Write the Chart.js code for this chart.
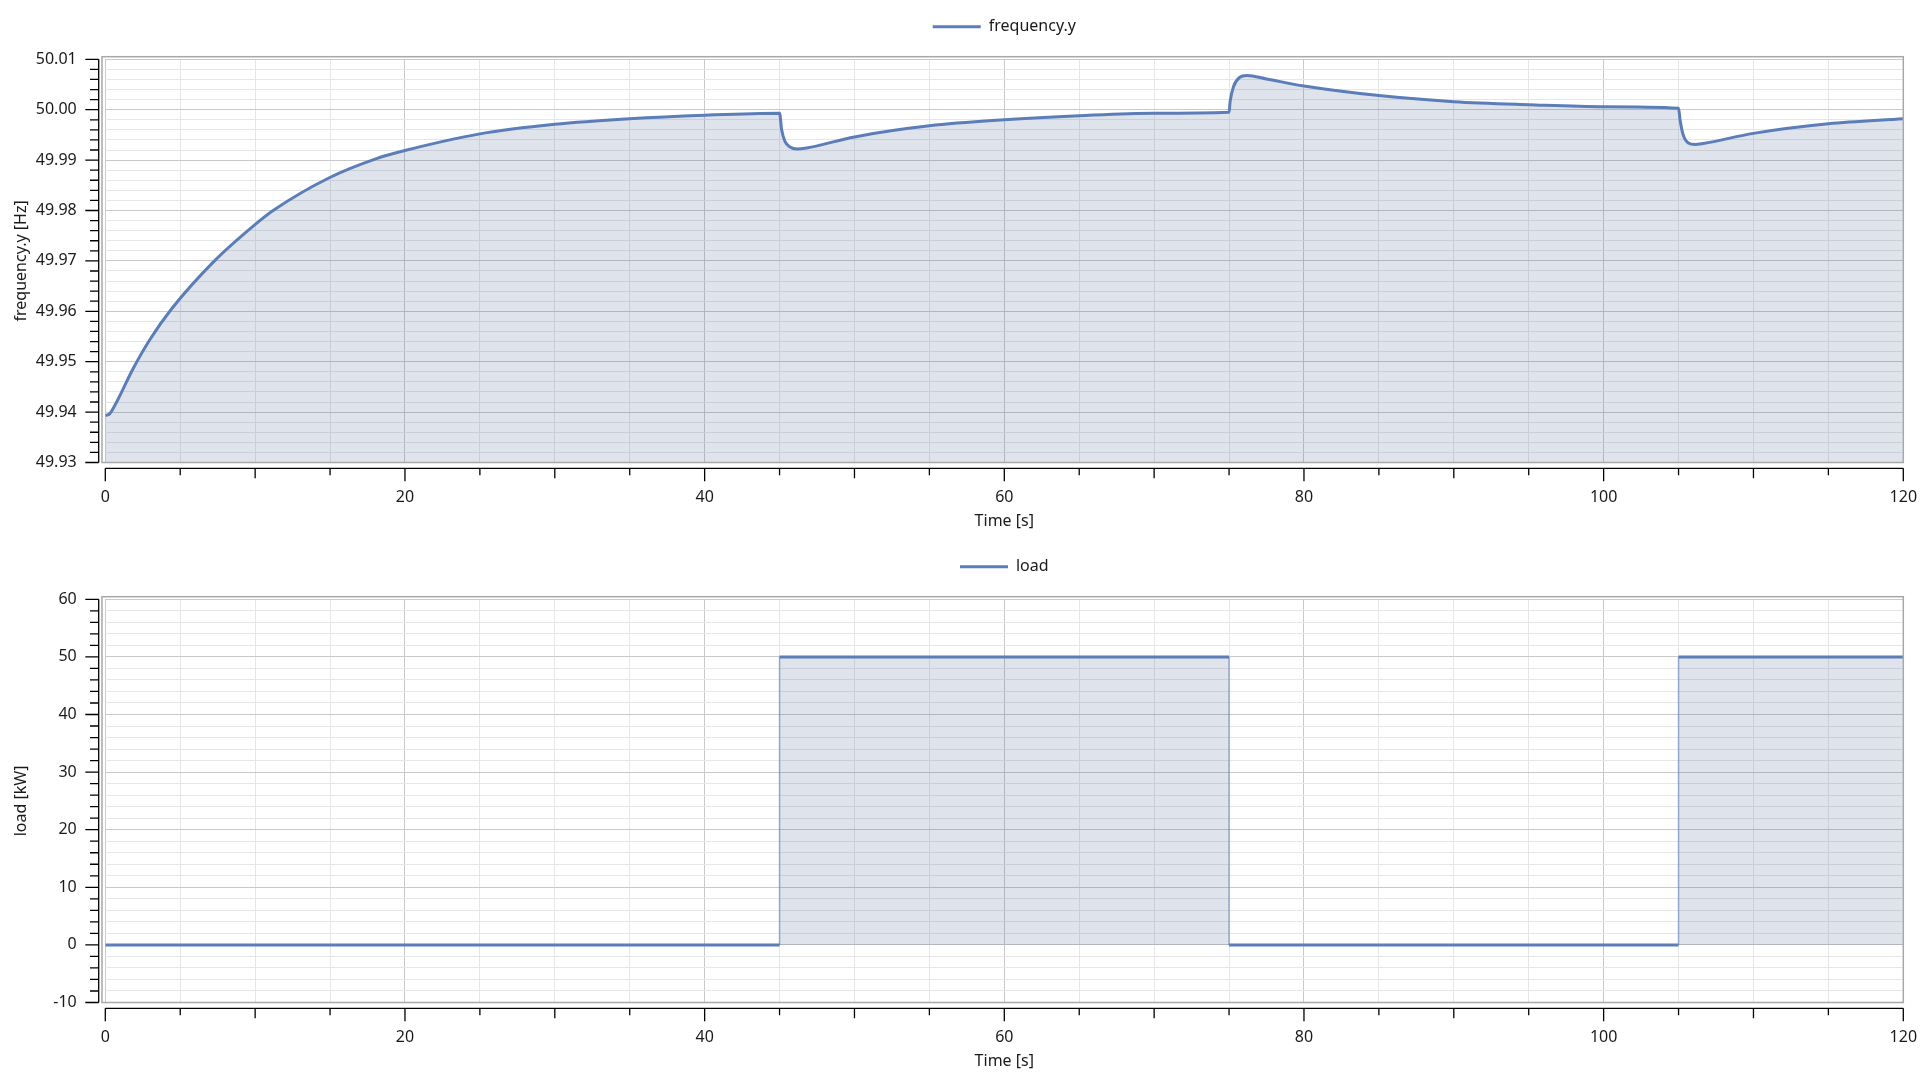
<!DOCTYPE html>
<html>
<head>
<meta charset="utf-8">
<script src="https://cdn.jsdelivr.net/npm/chart.js@4.4.1/dist/chart.umd.min.js"></script>
<style>
  body { margin: 0; background: #fff; }
  .panel { position: absolute; left: 0; width: 1920px; height: 540px; }
  #top { top: 0; }
  #bottom { top: 540px; }
</style>
</head>
<body>
<div class="panel" id="top"><canvas id="freqChart" width="1920" height="540"></canvas></div>
<div class="panel" id="bottom"><canvas id="loadChart" width="1920" height="540"></canvas></div>
<script>
// frequency.y
const freqTime = [0, 0.3, 0.65, 1.87, 2.98, 4.43, 7.32, 9.95, 11.2, 14.95, 18.1, 20, 25, 30, 35, 40, 45,
  45.14, 45.36, 45.7, 46.15, 46.8, 50, 55, 60, 65, 70, 75,
  75.07, 75.3, 75.7, 76.2, 77.5, 80, 85, 90, 95, 100, 105,
  105.1, 105.3, 105.65, 106.1, 106.65, 110, 115, 120];
const freqValue = [49.9393, 49.9397, 49.9414, 49.9487, 49.9544, 49.9605, 49.9701, 49.9771, 49.9800, 49.9865, 49.9903, 49.9919, 49.9952, 49.9971, 49.9982, 49.9989, 49.9993,
  49.9960, 49.9937, 49.9926, 49.9922, 49.9924, 49.9946, 49.9968, 49.9980, 49.9988, 49.9993, 49.9995,
  50.0016, 50.0046, 50.0064, 50.0068, 50.0061, 50.0047, 50.0028, 50.0016, 50.0010, 50.0006, 50.0003,
  49.9980, 49.9951, 49.9934, 49.9931, 49.9933, 49.9953, 49.9972, 49.9982];

// load step signal
const loadTime = [0, 45, 45, 75, 75, 105, 105, 120];
const loadValue = [0, 0, 50, 50, 0, 0, 50, 50];

const timeTicks = [0, 20, 40, 60, 80, 100, 120];

const LINE = '#5b7db8';
const FILL = 'rgba(76, 104, 150, 0.18)';
const GRID_MAJOR = '#c9c9c9';
const GRID_MINOR = '#e6e6e6';
const TEXT = '#1a1a1a';
const FONT = { family: '"Noto Sans", "Open Sans", sans-serif', size: 16 };

Chart.defaults.font = FONT;
Chart.defaults.color = TEXT;

// axis lines + tick marks sit a few px off the plot, drawn here
function axisDecor(isMajorY) {
  return {
    id: 'axisDecor',
    afterLayout(chart) {
      // pull the legend up into the top margin
      chart.legend.top -= 14.6;
      chart.legend.bottom -= 14.6;
    },
    afterDraw(chart) {
      const { ctx, chartArea: a, scales: { x, y } } = chart;
      ctx.save();

      // plot frame
      ctx.strokeStyle = '#a8a8a8';
      ctx.lineWidth = 1.5;
      ctx.strokeRect(a.left - 3.3, a.top - 2.6, a.right - a.left + 3.3, a.bottom - a.top + 2.6);

      ctx.strokeStyle = '#000';
      ctx.lineWidth = 1.3;

      // y axis
      const ax = a.left - 6.6;
      ctx.beginPath();
      ctx.moveTo(ax, y.getPixelForValue(y.max));
      ctx.lineTo(ax, y.getPixelForValue(y.min));
      y.ticks.forEach(t => {
        const py = y.getPixelForValue(t.value);
        const len = isMajorY(t.value) ? 13.4 : 8.7;
        ctx.moveTo(ax - len, py);
        ctx.lineTo(ax, py);
      });
      ctx.stroke();

      // x axis
      const ay = a.bottom + 5.8;
      ctx.beginPath();
      ctx.moveTo(x.getPixelForValue(x.min), ay);
      ctx.lineTo(x.getPixelForValue(x.max), ay);
      x.ticks.forEach(t => {
        const px = x.getPixelForValue(t.value);
        const len = t.value % 20 === 0 ? 13 : (t.value % 10 === 0 ? 10 : 7);
        ctx.moveTo(px, ay);
        ctx.lineTo(px, ay + len);
      });
      ctx.stroke();
      ctx.restore();
    }
  };
}

function makeChart(canvasId, opts) {
  const isMajorY = opts.isMajorY;
  return new Chart(document.getElementById(canvasId), {
    type: 'line',
    data: {
      datasets: [{
        label: opts.label,
        data: opts.time.map((t, i) => ({ x: t, y: opts.values[i] })),
        borderColor: LINE,
        backgroundColor: FILL,
        borderWidth: 3,
        pointRadius: 0,
        fill: opts.fill,
        cubicInterpolationMode: opts.smooth ? 'monotone' : 'default',
        tension: 0,
        segment: opts.segment || {}
      }]
    },
    options: {
      responsive: false,
      animation: false,
      layout: { padding: 0 },
      plugins: {
        legend: {
          fullSize: false,
          labels: {
            usePointStyle: true,
            pointStyle: 'line',
            pointStyleWidth: 48,
            padding: 18,
            color: TEXT
          }
        },
        tooltip: { enabled: false }
      },
      scales: {
        x: {
          type: 'linear',
          min: 0,
          max: 120,
          border: { display: false },
          grid: {
            drawTicks: false,
            color: c => (c.tick.value % 20 === 0 ? GRID_MAJOR : GRID_MINOR)
          },
          ticks: {
            stepSize: 5,
            autoSkip: false,
            maxRotation: 0,
            padding: 25,
            callback: v => (timeTicks.includes(v) ? String(v) : '')
          },
          title: { display: true, text: 'Time [s]', padding: { top: 0, bottom: 8.7 } },
          afterFit(s) {
            s.height = 77.5;
            s.paddingLeft = 0;
            s.paddingRight = 16.7;
          }
        },
        y: {
          min: opts.yMin,
          max: opts.yMax,
          border: { display: false },
          grid: {
            drawTicks: false,
            color: c => (isMajorY(c.tick.value) ? GRID_MAJOR : GRID_MINOR)
          },
          ticks: {
            stepSize: opts.yStep,
            autoSkip: false,
            padding: 28.6,
            callback: v => (isMajorY(v) ? opts.fmt(v) : '')
          },
          title: { display: true, text: opts.yTitle, padding: { top: 11.4, bottom: 0 } },
          afterFit(s) {
            s.width = 105.3;
            s.paddingTop = 59.3;
            s.paddingBottom = 0;
          }
        }
      }
    },
    plugins: [axisDecor(isMajorY)]
  });
}

makeChart('freqChart', {
  label: 'frequency.y',
  time: freqTime,
  values: freqValue,
  fill: 'start',
  smooth: true,
  yMin: 49.93,
  yMax: 50.01,
  yStep: 0.002,
  yTitle: 'frequency.y [Hz]',
  isMajorY: v => Math.abs(v * 100 - Math.round(v * 100)) < 1e-6,
  fmt: v => v.toFixed(2)
});

makeChart('loadChart', {
  label: 'load',
  time: loadTime,
  values: loadValue,
  fill: 'origin',
  smooth: false,
  yMin: -10,
  yMax: 60,
  yStep: 2,
  yTitle: 'load [kW]',
  isMajorY: v => v % 10 === 0,
  fmt: v => String(v),
  segment: {
    borderWidth: c => (Math.abs(c.p0.x - c.p1.x) < 0.5 ? 1.5 : 3),
    borderColor: c => (Math.abs(c.p0.x - c.p1.x) < 0.5 ? 'rgba(91,125,184,0.6)' : LINE)
  }
});
</script>
</body>
</html>
